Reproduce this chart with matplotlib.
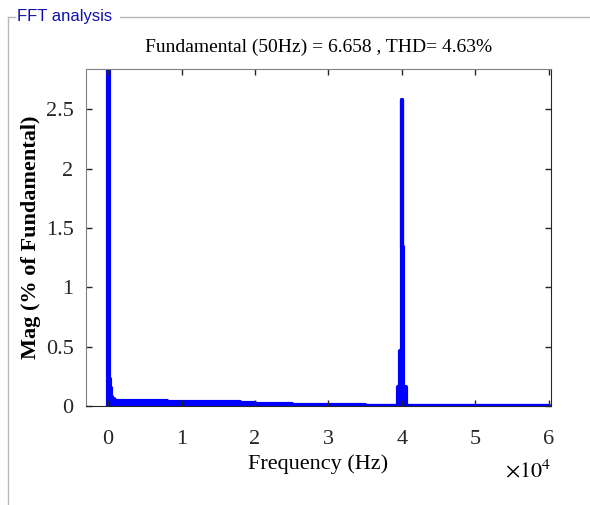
import numpy as np
import matplotlib.pyplot as plt
from matplotlib.lines import Line2D

plt.rcParams['font.family'] = 'Liberation Serif'
plt.rcParams['mathtext.fontset'] = 'stix'

# spectrum (Hz, % of fundamental), held until next point
spec_freq = [0, 50, 150, 300, 450, 600, 800, 1000, 1500, 2000, 3000, 4000,
             5000, 6000, 8000, 10000, 12000, 15000, 18000, 20000, 22000,
             25000, 30000, 35000, 39450, 39800, 39950, 40050, 40150,
             40200, 40550, 45000, 50000, 55000, 60000]
spec_mag = [0.0, 100.0, 0.23, 0.15, 0.08, 0.06, 0.05, 0.045, 0.04, 0.045,
            0.04, 0.045, 0.04, 0.042, 0.038, 0.036, 0.033, 0.03, 0.025,
            0.02, 0.015, 0.01, 0.006, 0.004, 0.16, 0.46, 2.58, 1.34, 0.46,
            0.16, 0.004, 0.003, 0.003, 0.003, 0.003]

title_txt = 'Fundamental (50Hz) = 6.658 , THD= 4.63%'
fund_mag = spec_mag[1]
ylim_top = 1.1 * max(m for m in spec_mag if m < fund_mag)

fig = plt.figure(figsize=(5.9, 5.05), dpi=100)
ax = fig.add_axes([0.1458, 0.196, 0.7882, 0.6674])

ax.fill_between(spec_freq, spec_mag, 0, step='post', facecolor='#0000ff',
                edgecolor='#0000ff', linewidth=3)

ax.set_xlim(-3000, 60300)
ax.set_ylim(0, ylim_top)
ax.set_xticks([0, 10000, 20000, 30000, 40000, 50000, 60000])
ax.set_xticklabels(['0', '1', '2', '3', '4', '5', '6'])
ax.set_yticks([0, 0.5, 1, 1.5, 2, 2.5])
ax.set_yticklabels(['0', '0.5', '1', '1.5', '2', '2.5'])
ax.tick_params(direction='in', length=4, width=1, labelsize=16,
               top=True, right=True, colors='#262626')
ax.tick_params(axis='x', pad=17)
ax.tick_params(axis='y', pad=9)
for s in ['left', 'top']:
    ax.spines[s].set_color('#808080')
for s in ['bottom', 'right']:
    ax.spines[s].set_color('#262626')

ax.set_title(title_txt, fontsize=14, pad=12)
ax.set_xlabel('Frequency (Hz)', fontsize=16, labelpad=4)
ax.set_ylabel('Mag (% of Fundamental)', fontsize=16, fontweight='bold', labelpad=3)
ax.text(1.0, -0.16, r'$\times10^4$', transform=ax.transAxes, ha='right',
        va='top', fontsize=16)

# panel frame
fig.add_artist(Line2D([8/590, 8/590], [0, 1 - 17/505], color='#b8b8b8', lw=1))
fig.add_artist(Line2D([8/590, 15/590], [1 - 17/505, 1 - 17/505], color='#b8b8b8', lw=1))
fig.add_artist(Line2D([120/590, 1], [1 - 17/505, 1 - 17/505], color='#b8b8b8', lw=1))
fig.text(17/590, 1 - 17/505, 'FFT analysis', color='#1010a8', fontsize=12,
         family='Liberation Sans', va='center', ha='left')

fig.savefig('out.png')
